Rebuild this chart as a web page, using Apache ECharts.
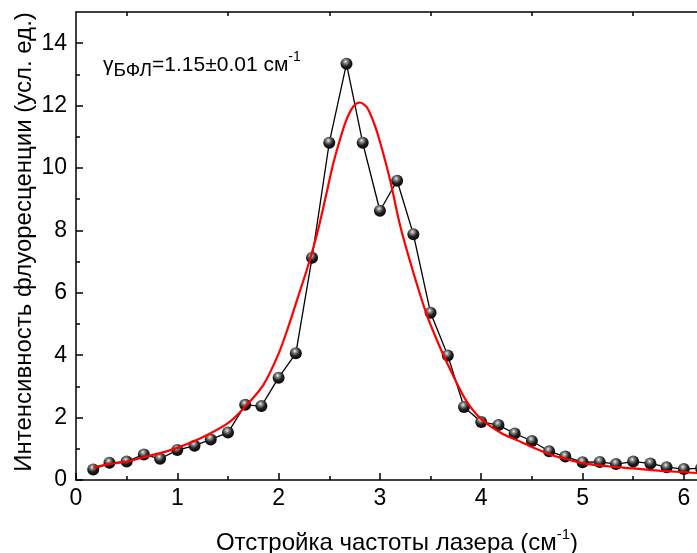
<!DOCTYPE html>
<html><head><meta charset="utf-8">
<script src="https://cdn.jsdelivr.net/npm/echarts@6/dist/echarts.min.js"></script>
<style>html,body{margin:0;padding:0;background:#fff}#c{width:697px;height:553px}</style>
</head><body><div id="c"></div>
<script>
// measured data (detuning, cm^-1 ; intensity, arb. units)
const xData = [0.17,0.33,0.5,0.67,0.83,1.0,1.17,1.33,1.5,1.67,1.83,2.0,2.17,2.33,2.5,2.67,2.83,3.0,3.17,3.33,3.5,3.67,3.83,4.0,4.17,4.33,4.5,4.67,4.83,5.0,5.17,5.33,5.5,5.67,5.83,6.0,6.17];
const yData = [0.34,0.55,0.59,0.82,0.68,0.96,1.10,1.30,1.52,2.41,2.37,3.28,4.06,7.12,10.81,13.34,10.81,8.63,9.59,7.88,5.36,3.99,2.34,1.86,1.76,1.49,1.25,0.92,0.75,0.57,0.58,0.51,0.59,0.53,0.41,0.35,0.38];
// red fit curve
const fitX = [0.17,0.33,0.5,0.67,0.83,1.0,1.25,1.5,1.67,1.85,2.0,2.1,2.2,2.27,2.33,2.4,2.47,2.54,2.6,2.67,2.74,2.8,2.87,2.94,3.0,3.1,3.2,3.33,3.46,3.6,3.7,3.85,4.0,4.2,4.35,4.5,4.68,4.85,5.0,5.25,5.5,5.75,6.0,6.2];
const fitY = [0.40,0.51,0.59,0.73,0.86,1.03,1.37,1.82,2.35,3.05,4.05,4.95,5.95,6.65,7.3,8.15,9.15,10.15,10.85,11.55,11.98,12.1,11.95,11.45,10.85,9.62,8.15,6.65,5.32,4.2,3.5,2.55,1.95,1.5,1.28,1.06,0.82,0.66,0.54,0.44,0.37,0.30,0.25,0.21];
const xRange = [0, 6.13];
const yRange = [0, 15];
const xMajorTicks = [0,1,2,3,4,5,6];
const xMinorTicks = [0.5,1.5,2.5,3.5,4.5,5.5];
const yMajorTicks = [0,2,4,6,8,10,12,14];
const yMinorTicks = [1,3,5,7,9,11,13];

const FONT = 'Liberation Sans, Arial, sans-serif';
const chart = echarts.init(document.getElementById('c'), null, {renderer:'canvas'});
const lineSt = {color:'#000', width:1.5};
const lbl = {color:'#000', fontSize:23, fontFamily:FONT};
function xAx(pos, opt){
  return Object.assign({type:'value', position:pos, min:xRange[0], max:xRange[1],
    splitLine:{show:false}, minorTick:{show:false},
    axisLine:{show:true, onZero:false, lineStyle:lineSt}}, opt);
}
function yAx(pos, opt){
  return Object.assign({type:'value', position:pos, min:yRange[0], max:yRange[1],
    splitLine:{show:false}, minorTick:{show:false},
    axisLine:{show:true, onZero:false, lineStyle:lineSt}}, opt);
}
const ball = {
  type:'radial', x:0.42, y:0.32, r:0.72,
  colorStops:[{offset:0,color:'#f2f2f2'},{offset:0.22,color:'#8a8a8a'},{offset:0.55,color:'#222'},{offset:1,color:'#000'}]
};
chart.setOption({
  animation:false,
  backgroundColor:'#fff',
  grid:{left:76, top:12, right:0, bottom:73, containLabel:false},
  xAxis:[
    xAx('bottom', {axisTick:{show:true, inside:true, length:7, customValues:xMajorTicks, lineStyle:lineSt},
      axisLabel:Object.assign({}, lbl, {margin:7, customValues:xMajorTicks})}),
    xAx('bottom', {axisLine:{show:false, onZero:false}, axisTick:{show:true, inside:true, length:4, customValues:xMinorTicks, lineStyle:lineSt},
      axisLabel:{show:false}}),
    xAx('top', {axisTick:{show:true, inside:true, length:4, customValues:xMinorTicks, lineStyle:lineSt},
      axisLabel:{show:false}})
  ],
  yAxis:[
    yAx('left', {axisTick:{show:true, inside:true, length:7, customValues:yMajorTicks, lineStyle:lineSt},
      axisLabel:Object.assign({}, lbl, {margin:9, customValues:yMajorTicks})}),
    yAx('left', {axisLine:{show:false, onZero:false}, axisTick:{show:true, inside:true, length:4, customValues:yMinorTicks, lineStyle:lineSt},
      axisLabel:{show:false}})
  ],
  series:[
    {type:'line', xAxisIndex:0, yAxisIndex:0, data:xData.map((x,i)=>[x,yData[i]]),
      symbol:'circle', symbolSize:12, showAllSymbol:true, clip:false,
      lineStyle:{color:'#000', width:1.3}, itemStyle:{color:ball}, z:2},
    {type:'line', xAxisIndex:0, yAxisIndex:0, data:fitX.map((x,i)=>[x,fitY[i]]),
      smooth:0.3, showSymbol:false, symbol:'none', clip:false,
      lineStyle:{color:'#ff0000', width:2.2}, z:3}
  ],
  graphic:[
    {type:'text', left:103, top:50, z:10, style:{
      text:'{g|γ}{s|БФЛ}{n|=1.15±0.01 см}{p|-1}',
      rich:{
        g:{fontSize:21, fontFamily:FONT, fill:'#000', lineHeight:30},
        n:{fontSize:21, fontFamily:FONT, fill:'#000', lineHeight:30},
        s:{fontSize:19, fontFamily:FONT, fill:'#000', lineHeight:20, verticalAlign:'bottom'},
        p:{fontSize:14, fontFamily:FONT, fill:'#000', lineHeight:18, verticalAlign:'top'}
      }}},
    {type:'text', x:397, y:543, z:10, style:{
      text:'{a|Отстройка частоты лазера (см}{p|-1}{a|)}',
      textAlign:'center', textVerticalAlign:'middle', align:'center', verticalAlign:'middle',
      rich:{
        a:{fontSize:24, fontFamily:FONT, fill:'#000', lineHeight:32},
        p:{fontSize:15, fontFamily:FONT, fill:'#000', lineHeight:20, verticalAlign:'top'}
      }}},
    {type:'text', x:24, y:242, rotation:Math.PI/2, z:10, style:{
      text:'Интенсивность флуоресценции (усл. ед.)',
      fontSize:24, fontFamily:FONT, fill:'#000',
      textAlign:'center', textVerticalAlign:'middle', align:'center', verticalAlign:'middle'}}
  ]
});
</script></body></html>
